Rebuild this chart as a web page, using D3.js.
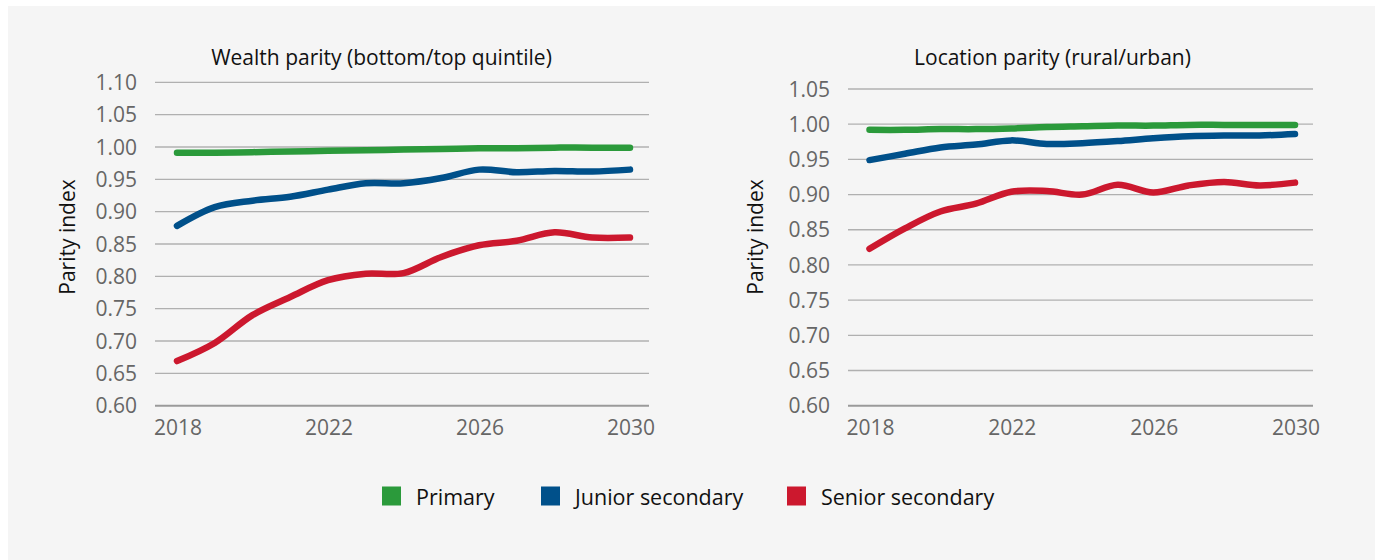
<!DOCTYPE html>
<html>
<head>
<meta charset="utf-8">
<script src="https://cdn.jsdelivr.net/npm/d3@7"></script>
<style>
  html, body { margin: 0; padding: 0; background: #ffffff; }
  svg { display: block; font-family: "Open Sans", "DejaVu Sans", sans-serif; }
</style>
</head>
<body>
<svg id="chart" width="1375" height="560"></svg>
<script>
// ---------- data ----------
const years = [2018, 2019, 2020, 2021, 2022, 2023, 2024, 2025, 2026, 2027, 2028, 2029, 2030];
const xTickYears = [2018, 2022, 2026, 2030];
const seriesNames = ["Primary", "Junior secondary", "Senior secondary"];
const seriesColors = ["#2b9a3b", "#00508a", "#cc182e"];

const wealthPrimary = [0.991, 0.991, 0.992, 0.993, 0.994, 0.995, 0.996, 0.997, 0.998, 0.998, 0.999, 0.999, 0.999];
const wealthJunior  = [0.878, 0.907, 0.917, 0.923, 0.934, 0.944, 0.944, 0.952, 0.965, 0.961, 0.963, 0.962, 0.965];
const wealthSenior  = [0.669, 0.697, 0.740, 0.768, 0.794, 0.804, 0.805, 0.830, 0.848, 0.855, 0.868, 0.860, 0.860];

const locPrimary = [0.992, 0.992, 0.993, 0.993, 0.994, 0.996, 0.997, 0.998, 0.998, 0.999, 0.999, 0.999, 0.999];
const locJunior  = [0.949, 0.958, 0.967, 0.971, 0.977, 0.972, 0.973, 0.976, 0.980, 0.983, 0.984, 0.984, 0.986];
const locSenior  = [0.823, 0.852, 0.876, 0.887, 0.904, 0.905, 0.900, 0.914, 0.903, 0.913, 0.918, 0.913, 0.917];

const wealthTicks = [0.60, 0.65, 0.70, 0.75, 0.80, 0.85, 0.90, 0.95, 1.00, 1.05, 1.10];
const locTicks    = [0.60, 0.65, 0.70, 0.75, 0.80, 0.85, 0.90, 0.95, 1.00, 1.05];

const titles = ["Wealth parity (bottom/top quintile)", "Location parity (rural/urban)"];
const yTitle = "Parity index";

// ---------- drawing ----------
const svg = d3.select("#chart");
svg.append("rect").attr("x", 8).attr("y", 6).attr("width", 1375 - 8).attr("height", 560 - 6).attr("fill", "#f5f5f5");

const panels = [
  { title: titles[0], ticks: wealthTicks, domain: [0.60, 1.10], series: [wealthPrimary, wealthJunior, wealthSenior],
    gx: [155, 649], px: [177, 630], y: [405.7, 82.3], titleX: 381.5, yTitleX: 67, tickRight: 137 },
  { title: titles[1], ticks: locTicks, domain: [0.60, 1.05], series: [locPrimary, locJunior, locSenior],
    gx: [848, 1313], px: [869.5, 1295], y: [405.7, 89], titleX: 1052.5, yTitleX: 755, tickRight: 830 }
];

panels.forEach(p => {
  const g = svg.append("g");
  const x = d3.scalePoint().domain(years).range(p.px);
  const y = d3.scaleLinear().domain(p.domain).range(p.y);

  // gridlines
  g.selectAll("line.grid").data(p.ticks).join("line")
    .attr("x1", p.gx[0]).attr("x2", p.gx[1])
    .attr("y1", d => y(d)).attr("y2", d => y(d))
    .attr("stroke", d => d === p.domain[0] ? "#9a9a9a" : "#b0b0b0")
    .attr("stroke-width", d => d === p.domain[0] ? 2 : 1.3);

  // y tick labels
  g.selectAll("text.ytick").data(p.ticks).join("text")
    .attr("x", p.tickRight).attr("y", d => y(d))
    .attr("dy", "0.36em")
    .attr("text-anchor", "end")
    .attr("fill", "#666666").attr("font-size", 21)
    .text(d => d3.format(".2f")(d));

  // x tick labels
  g.selectAll("text.xtick").data(xTickYears).join("text")
    .attr("x", d => x(d) + 1).attr("y", 435)
    .attr("text-anchor", "middle")
    .attr("fill", "#666666").attr("font-size", 21)
    .text(d => d);

  // title
  g.append("text").attr("x", p.titleX).attr("y", 65)
    .attr("text-anchor", "middle").attr("fill", "#111").attr("font-size", 21)
    .text(p.title);

  // y axis title
  g.append("text")
    .attr("transform", `translate(${p.yTitleX},237) rotate(-90)`)
    .attr("text-anchor", "middle").attr("dy", "0.36em")
    .attr("fill", "#111").attr("font-size", 21)
    .text(yTitle);

  // lines
  const line = d3.line()
    .x((d, i) => x(years[i]))
    .y(d => y(d))
    .curve(d3.curveCatmullRom.alpha(0.5));
  p.series.forEach((s, k) => {
    g.append("path").datum(s)
      .attr("d", line)
      .attr("fill", "none")
      .attr("stroke", seriesColors[k])
      .attr("stroke-width", 6.5)
      .attr("stroke-linecap", "round")
      .attr("stroke-linejoin", "round");
  });
});

// legend
const legendX = [382, 541, 787];
const lg = svg.append("g");
seriesNames.forEach((name, i) => {
  lg.append("rect").attr("x", legendX[i]).attr("y", 486.5).attr("width", 19).attr("height", 19).attr("fill", seriesColors[i]);
  lg.append("text").attr("x", legendX[i] + 34).attr("y", 504.5)
    .attr("fill", "#111").attr("font-size", 21.5).text(name);
});
</script>
</body>
</html>
